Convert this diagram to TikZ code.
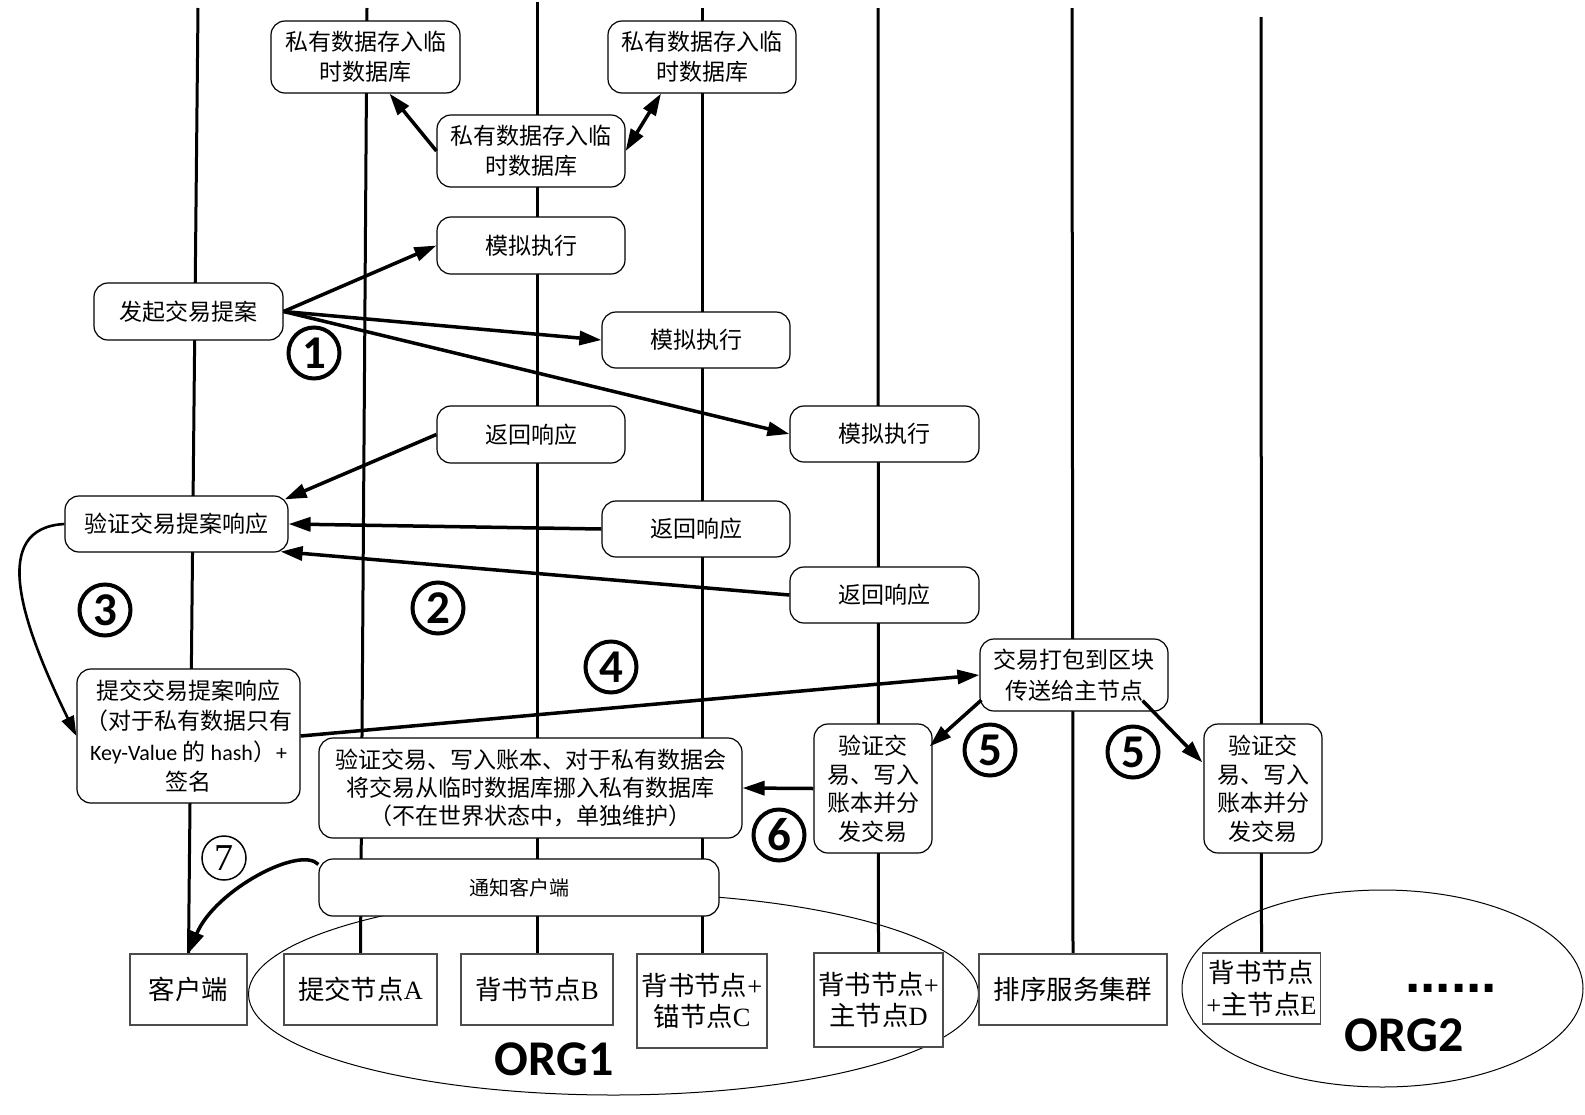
\documentclass[tikz,border=0pt]{standalone}
\usepackage{fontspec}
\setmainfont{Noto Sans CJK SC}
\newfontfamily\lsfont{Liberation Serif}
\newfontfamily\crlfont{Carlito}
\newfontfamily\arlfont{Liberation Sans}
\newcommand\serLat[1]{{\lsfont #1}}
\newcommand\sanLat[1]{{\crlfont\fontsize{11}{15.2}\selectfont #1}}
\usetikzlibrary{arrows.meta,calc}
\begin{document}
\begin{tikzpicture}[x=0.5pt,y=-0.5pt,
  sz/.style 2 args={minimum width=#1*0.5pt, minimum height=#2*0.5pt},
  rbox/.style={draw, line width=0.6pt, rounded corners=7pt, fill=white, align=center, inner sep=0pt, font=\fontsize{11.5}{15.2}\selectfont},
  sbox/.style={draw=black!70, line width=0.75pt, fill=white, align=center, inner sep=0pt, font=\fontsize{13.2}{15.7}\selectfont},
  life/.style={line width=1.5pt},
  arr/.style={line width=1.75pt, -{Triangle[length=11pt,width=7pt]}},
  num/.style={circle, draw, line width=2pt, minimum size=25.5pt, inner sep=0pt, font=\crlfont\bfseries\fontsize{23.5}{24}\selectfont},
  orglabel/.style={inner sep=0pt, font=\crlfont\bfseries\fontsize{25}{25}\selectfont}
]
\useasboundingbox[fill=white] (0,0) rectangle (1585,1114);

% bottom boxes (declared first for lifeline ends)
\node[sbox,sz={117}{71}] (CLI) at (188.5,989.5) {客户端};
\node[sbox,sz={153}{71}] (NA) at (360.5,989.5) {提交节点\serLat{A}};
\node[sbox,sz={152}{71}] (NB) at (537,989.5) {背书节点\serLat{B}};
\node[sbox,sz={130}{94}] (NC) at (702,1001) {背书节点\serLat{+}\\锚节点\serLat{C}};
\node[sbox,sz={129}{94}] (ND) at (878.5,1000) {背书节点\serLat{+}\\主节点\serLat{D}};
\node[sbox,sz={188}{71}] (ORD) at (1073,989.5) {排序服务集群};
\node[sbox,sz={118}{71}] (NE) at (1261.5,988.5) {背书节点\\\serLat{+}主节点\serLat{E}};

% lifelines
\coordinate (tCL) at (198,8);
\coordinate (tA) at (367,8);
\coordinate (tB) at (537,2);
\coordinate (tC) at (702,8);
\coordinate (tD) at (878,8);
\coordinate (tO) at (1072,8);
\coordinate (tE) at (1261,17);
\draw[life] (tCL) -- (CLI.north);
\draw[life] (tA) -- (NA.north);
\draw[life] (tB) -- (NB.north);
\draw[life] (tC) -- (NC.north);
\draw[life] (tD) -- (ND.north);
\draw[life] (tO) -- (ORD.north);
\draw[life] (tE) -- (NE.north);

% organisations
\draw[line width=0.5pt] (613.5,994) ellipse [x radius=365, y radius=101];
\draw[line width=0.5pt] (1382.5,988.5) ellipse [x radius=200.5, y radius=98.5];

% redraw bottom boxes on top of ellipses
\node[sbox,sz={117}{71}] at (CLI) {客户端};
\node[sbox,sz={153}{71}] at (NA) {提交节点\serLat{A}};
\node[sbox,sz={152}{71}] at (NB) {背书节点\serLat{B}};
\node[sbox,sz={130}{94}] at (NC) {背书节点\serLat{+}\\锚节点\serLat{C}};
\node[sbox,sz={129}{94}] at (ND) {背书节点\serLat{+}\\主节点\serLat{D}};
\node[sbox,sz={188}{71}] at (ORD) {排序服务集群};
\node[sbox,sz={118}{71}] at (NE) {背书节点\\\serLat{+}主节点\serLat{E}};

\node[orglabel] (ORG1) at (554,1059) {ORG1};
\node[orglabel] (ORG2) at (1404,1035) {ORG2};
\node[inner sep=0pt, anchor=base, font=\arlfont\bfseries\fontsize{27.5}{28}\selectfont] (DOTS) at (1451,992) {......};

% process boxes
\node[rbox,sz={189}{72}] (PD1) at (365.5,57) {私有数据存入临\\时数据库};
\node[rbox,sz={188}{72}] (PD2) at (702,57) {私有数据存入临\\时数据库};
\node[rbox,sz={188}{72}] (PD0) at (531,151) {私有数据存入临\\时数据库};
\node[rbox,sz={188}{57}] (SIM1) at (531,245.5) {模拟执行};
\node[rbox,sz={189}{57}] (PROP) at (188.5,311.5) {发起交易提案};
\node[rbox,sz={188}{56}] (SIM2) at (696,340) {模拟执行};
\node[rbox,sz={189}{56}] (SIM3) at (884.5,434) {模拟执行};
\node[rbox,sz={188}{57}] (RET1) at (531,434.5) {返回响应};
\node[rbox,sz={223}{56}] (VER) at (176.5,524) {验证交易提案响应};
\node[rbox,sz={188}{56}] (RET2) at (696,529) {返回响应};
\node[rbox,sz={189}{56}] (RET3) at (884.5,595) {返回响应};
\node[rbox,sz={223}{134}] (SUB) at (188.5,736) {提交交易提案响应\\（对于私有数据只有\\\sanLat{Key-Value} 的 \sanLat{hash}）\sanLat{+}\\签名};
\node[rbox,sz={423}{100},font=\fontsize{11.5}{14.2}\selectfont] (COMMIT) at (530.5,788) {验证交易、写入账本、对于私有数据会\\将交易从临时数据库挪入私有数据库\\（不在世界状态中，单独维护）};
\node[rbox,sz={188}{72}] (PACK) at (1074,675) {交易打包到区块\\传送给主节点};
\node[rbox,sz={118}{129},font=\fontsize{11.5}{14.25}\selectfont] (VD) at (873,788.5) {验证交\\易、写入\\账本并分\\发交易};
\node[rbox,sz={118}{129},font=\fontsize{11.5}{14.25}\selectfont] (VE) at (1263,788.5) {验证交\\易、写入\\账本并分\\发交易};
\node[rbox,sz={400}{57},font=\fontsize{10}{12}\selectfont] (NOTIFY) at (519,887.5) {通知客户端};

% arrows
\draw[arr] (PD0.west) -- ([xshift=12pt]PD1.south);
\draw[line width=1.75pt, {Triangle[length=11pt,width=7pt]}-{Triangle[length=11pt,width=7pt]}] (PD0.east) -- ([xshift=-20.5pt]PD2.south);
\draw[arr] (PROP.east) -- (SIM1.west);
\draw[arr] (PROP.east) -- (SIM2.west);
\draw[arr] (PROP.east) -- (SIM3.west);
\draw[arr] (RET1.west) -- ($(VER.north east)+(-4,4)$);
\draw[arr] (RET2.west) -- (VER.east);
\draw[arr] (RET3.west) -- ($(VER.south east)+(-8,-1)$);
\draw[line width=1.3pt, -{Triangle[length=10pt,width=6.5pt]}] (VER.west) .. controls (-10,528) and (20,620) .. (SUB.west);
\draw[arr] (SUB.east) -- (PACK.west);
\draw[arr] ($(PACK.west)+(2,25)$) -- ($(VD.north east)+(-3,23)$);
\draw[arr] ($(PACK.south east)+(-26,-11)$) -- ($(VE.north west)+(-1,39)$);
\draw[arr] (VD.west) -- (COMMIT.east);
\draw[arr] ($(NOTIFY.north west)+(0,6)$) .. controls (300,845) and (215,890) .. (CLI.north);

% step numbers
\node[num] (n1) at (314,353) {1};
\node[num] (n2) at (438,608) {2};
\node[num] (n3) at (105,610) {3};
\node[num] (n4) at (611,667) {4};
\node[num] (n5a) at (990,750) {5};
\node[num] (n5b) at (1133,752) {5};
\node[num] (n6) at (779,835) {6};
\node[circle, draw, line width=0.75pt, minimum size=22pt, inner sep=0pt, font=\lsfont\fontsize{19}{19}\selectfont] (n7) at (224,858) {7};
\end{tikzpicture}
\end{document}
